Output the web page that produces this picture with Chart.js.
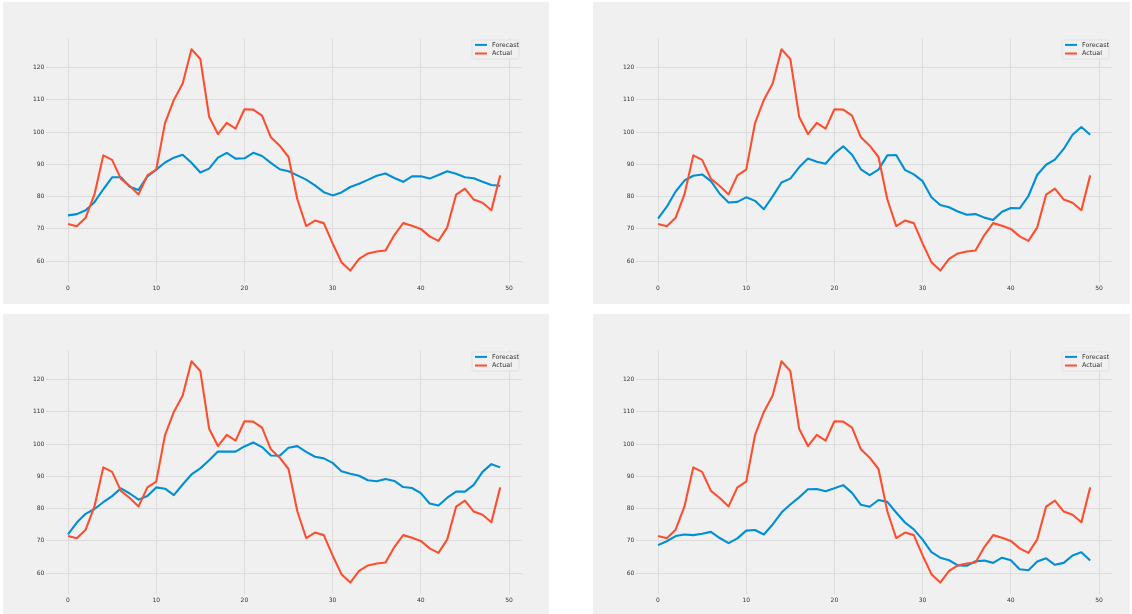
<!DOCTYPE html>
<html>
<head>
<meta charset="utf-8">
<script src="https://cdn.jsdelivr.net/npm/chart.js@4.4.0/dist/chart.umd.min.js"></script>
<style>
  html, body { margin: 0; padding: 0; background: #fff; width: 1132px; height: 614px; overflow: hidden; }
  .panel { position: absolute; width: 546px; height: 302px; background: #f0f0f0; overflow: hidden; }
  .panel canvas { position: absolute; left: 0; top: 0; }
</style>
</head>
<body>
<div class="panel" style="left:3px;top:2px"><canvas id="c1" width="546" height="302"></canvas></div>
<div class="panel" style="left:593px;top:2px;width:537px"><canvas id="c2" width="546" height="302"></canvas></div>
<div class="panel" style="left:3px;top:314px"><canvas id="c3" width="546" height="302"></canvas></div>
<div class="panel" style="left:593px;top:314px;width:537px"><canvas id="c4" width="546" height="302"></canvas></div>
<script>
// x positions (step index) and axis ticks
const steps = [0,1,2,3,4,5,6,7,8,9,10,11,12,13,14,15,16,17,18,19,20,21,22,23,24,
  25,26,27,28,29,30,31,32,33,34,35,36,37,38,39,40,41,42,43,44,45,46,47,48,49];
const xTicks = [0, 10, 20, 30, 40, 50];
const yTicks = [60, 70, 80, 90, 100, 110, 120];
const seriesNames = ["Forecast", "Actual"];

// the actual series is the same in all four panels
const actual = [71.5, 70.8, 73.5, 80.7, 92.8, 91.4, 85.5, 83.3, 80.7, 86.6,
  88.4, 102.8, 110.0, 115.1, 125.7, 122.7, 104.8, 99.4, 102.9, 101.1,
  107.1, 107.0, 105.1, 98.4, 95.8, 92.3, 79.2, 70.9, 72.6, 71.8,
  65.5, 59.7, 57.1, 60.7, 62.4, 63.0, 63.3, 68.1, 71.8, 71.0,
  70.0, 67.7, 66.3, 70.5, 80.6, 82.5, 79.1, 78.1, 75.8, 86.6];

// one forecast per panel
const forecastA = [74.2, 74.6, 75.8, 78.3, 82.3, 86.0, 86.0, 83.1, 82.1, 86.3,
  88.4, 90.6, 92.1, 93.0, 90.5, 87.5, 88.7, 92.1, 93.6, 91.8,
  91.9, 93.6, 92.6, 90.5, 88.5, 87.9, 86.6, 85.3, 83.5, 81.4,
  80.4, 81.3, 83.0, 84.0, 85.2, 86.5, 87.2, 85.8, 84.6, 86.3,
  86.3, 85.6, 86.7, 87.9, 87.1, 86.0, 85.7, 84.6, 83.6, 83.4];
const forecastB = [73.2, 76.9, 81.6, 85.0, 86.5, 86.9, 84.8, 80.9, 78.2, 78.4,
  79.8, 78.7, 76.1, 80.1, 84.4, 85.6, 89.1, 91.8, 90.8, 90.2,
  93.4, 95.6, 93.0, 88.5, 86.7, 88.4, 92.8, 92.9, 88.3, 86.9,
  84.8, 79.8, 77.4, 76.7, 75.4, 74.4, 74.6, 73.5, 72.8, 75.3,
  76.5, 76.4, 80.2, 86.8, 89.9, 91.5, 94.8, 99.2, 101.6, 99.2];
const forecastC = [72.0, 75.7, 78.4, 79.9, 82.0, 83.9, 86.3, 84.7, 82.8, 83.9,
  86.6, 86.2, 84.2, 87.5, 90.6, 92.5, 95.0, 97.7, 97.7, 97.7,
  99.3, 100.5, 99.1, 96.5, 96.4, 98.9, 99.4, 97.6, 96.1, 95.6,
  94.2, 91.6, 90.8, 90.2, 88.8, 88.5, 89.2, 88.6, 86.7, 86.4,
  84.8, 81.6, 81.0, 83.4, 85.3, 85.3, 87.4, 91.4, 93.8, 92.8];
const forecastD = [68.7, 69.9, 71.5, 72.0, 71.8, 72.2, 72.8, 70.9, 69.3, 70.8,
  73.2, 73.4, 72.0, 75.1, 78.8, 81.3, 83.5, 86.0, 86.1, 85.4,
  86.3, 87.3, 84.9, 81.2, 80.6, 82.7, 82.1, 78.8, 75.7, 73.6,
  70.4, 66.5, 64.8, 64.0, 62.4, 62.3, 63.7, 63.9, 63.2, 64.8,
  64.0, 61.2, 60.9, 63.6, 64.6, 62.6, 63.2, 65.5, 66.5, 63.9];

const BLUE = "#008fd5", RED = "#fc4f30";
const FONT = { family: "DejaVu Sans", size: 6 };
const GRID = "#dcdcdc";

// matplotlib-like legend box inside the top right of the plot area
const boxLegend = {
  id: "boxLegend",
  afterDatasetsDraw(chart) {
    const ctx = chart.ctx, a = chart.chartArea;
    const w = 47, h = 19;
    const x = a.right - 2.8 - w, y = a.top + 1.7;
    ctx.save();
    ctx.fillStyle = "#f0f0f0";
    ctx.strokeStyle = "#dedede";
    ctx.lineWidth = 0.8;
    ctx.beginPath();
    ctx.roundRect(x, y, w, h, 1.5);
    ctx.fill();
    ctx.stroke();
    ctx.font = "6.4px " + FONT.family;
    ctx.textBaseline = "middle";
    chart.data.datasets.forEach((ds, i) => {
      const ry = y + 4.9 + i * 8.6;
      ctx.strokeStyle = ds.borderColor;
      ctx.lineWidth = 2;
      ctx.beginPath();
      ctx.moveTo(x + 3, ry);
      ctx.lineTo(x + 15, ry);
      ctx.stroke();
      ctx.fillStyle = "#333";
      ctx.fillText(ds.label, x + 20, ry);
    });
    ctx.restore();
  }
};

function pts(vals) {
  return vals.map((v, i) => ({ x: steps[i], y: v }));
}

function makeChart(id, forecast) {
  new Chart(document.getElementById(id), {
    type: "line",
    data: {
      datasets: [
        { label: seriesNames[0], data: pts(forecast), borderColor: BLUE, order: 1 },
        { label: seriesNames[1], data: pts(actual), borderColor: RED, order: 0 }
      ]
    },
    options: {
      responsive: false,
      animation: false,
      layout: { padding: { left: 0, right: 27.2, top: 36.3, bottom: 0 } },
      plugins: { legend: { display: false }, tooltip: { enabled: false } },
      elements: {
        point: { radius: 0 },
        line: { borderWidth: 2.1, tension: 0, borderCapStyle: "butt", borderJoinStyle: "round" }
      },
      scales: {
        x: {
          type: "linear", min: -2.45, max: 51.45,
          afterBuildTicks: s => { s.ticks = xTicks.map(v => ({ value: v })); },
          afterFit: s => { s.height = 22.5; },
          grid: { color: GRID, lineWidth: 1, drawTicks: false },
          border: { display: false },
          ticks: { padding: 3, color: "#333", font: FONT, maxRotation: 0, autoSkip: false }
        },
        y: {
          min: 53.7, max: 129.1,
          afterBuildTicks: s => { s.ticks = yTicks.map(v => ({ value: v })); },
          afterFit: s => { s.width = 43.4; },
          grid: { color: GRID, lineWidth: 1, drawTicks: false },
          border: { display: false },
          ticks: { padding: 2, color: "#333", font: FONT, autoSkip: false }
        }
      }
    },
    plugins: [boxLegend]
  });
}

makeChart("c1", forecastA);
makeChart("c2", forecastB);
makeChart("c3", forecastC);
makeChart("c4", forecastD);
</script>
</body>
</html>
